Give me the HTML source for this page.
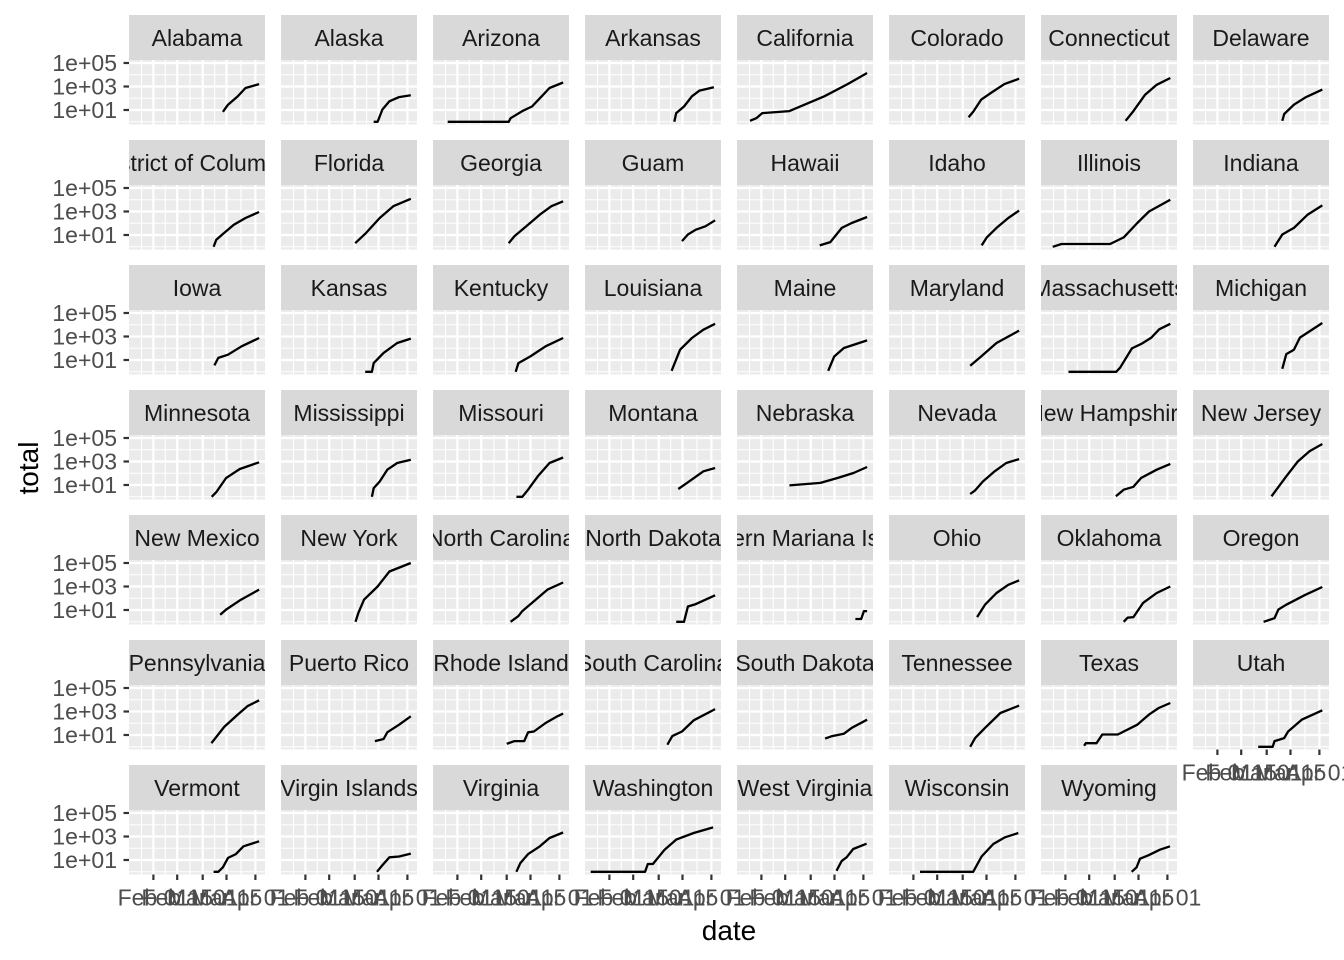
<!DOCTYPE html>
<html><head><meta charset="utf-8"><title>total by date per state</title>
<style>
html,body{margin:0;padding:0;background:#fff;}
svg{display:block;font-family:"Liberation Sans",Arial,sans-serif;}
</style></head>
<body>
<svg id="chart" width="1344" height="960" viewBox="0 0 1344 960" xmlns="http://www.w3.org/2000/svg">
<rect width="1344" height="960" fill="#fff"/>
<defs id="defs"></defs>
<g id="panels"></g>
<text x="729" y="940" font-size="28" text-anchor="middle" fill="#000">date</text>
<text transform="translate(38,468) rotate(-90)" font-size="28" text-anchor="middle" fill="#000">total</text>
</svg>
<script>
const states = ["Alabama","Alaska","Arizona","Arkansas","California","Colorado","Connecticut","Delaware",
"District of Columbia","Florida","Georgia","Guam","Hawaii","Idaho","Illinois","Indiana",
"Iowa","Kansas","Kentucky","Louisiana","Maine","Maryland","Massachusetts","Michigan",
"Minnesota","Mississippi","Missouri","Montana","Nebraska","Nevada","New Hampshire","New Jersey",
"New Mexico","New York","North Carolina","North Dakota","Northern Mariana Islands","Ohio","Oklahoma","Oregon",
"Pennsylvania","Puerto Rico","Rhode Island","South Carolina","South Dakota","Tennessee","Texas","Utah",
"Vermont","Virgin Islands","Virginia","Washington","West Virginia","Wisconsin","Wyoming"];
// days since Feb 01 2020
const seriesDays = [
[40.9,43.9,49.6,54.2,62.2],[40.2,42.5,45.3,49.4,55.1,62],[-5.7,30.2,31.3,38.2,43.9,49.6,54.2,62.2],[38.2,39.3,43.9,48.5,53,61.5],
[-6.7,-3,0.5,16.5,24.5,37,50.7,62.2],[32.5,35.2,39.8,45.5,53.5,62.2],[35.4,40,46.9,53.7,61.7],[38.2,39.3,45,51.9,61.7],
[35.4,37,40.5,47.3,54.2,62.2],[29.3,35.7,43.7,51.7,62],[30.2,33.6,40.5,48.5,55.3,62.2],[42.7,46.2,50.8,56.5,62.2],
[34.3,40.5,47.3,53.1,62.2],[40.2,43.2,48.9,55.8,62.2],[-7.5,-2.3,26.3,34.3,42.3,49.2,61.7],[33.6,38.2,45,53.1,61.7],
[35.9,38.2,43.9,51.9,62.2],[35.2,39.1,40.2,46,54,62],[34.3,35.9,42.8,51.9,62.2],[36.6,41.6,48.5,55.3,62.2],
[39.3,42.8,48.5,62.2],[33.4,39.8,48.9,62.2],[1.8,29.9,32.2,39.1,44.9,50.6,55.2,61.7],[38.2,40.5,45,48.5,61.7],
[34.3,37,42.8,50.8,62.2],[39.1,40.2,43.7,48.2,54,62],[34.7,38.2,41.6,47.3,54.2,62.2],[40.5,46.2,55.3,62.2],
[16.5,34.7,45,54.2,62.2],[33.4,36.3,40.9,47.8,54.6,62.2],[29.7,34.3,40,44.6,53.7,61.7],[31.8,34.7,40.5,47.3,54.2,61.7],
[39.3,42.8,50.8,62.2],[29.5,31.1,34.5,42.5,49.4,62],[31.3,35.9,38.2,45,53,62.2],[39.3,43.9,46.2,50.8,62.2],
[55.3,58.7,60.3,62.2],[37.5,42.1,48.9,55.8,62.2],[34.3,36.6,40,45.7,53.7,61.7],[27.2,33.6,35.9,40.5,51.9,61.7],
[34.1,41.6,49.6,55.3,62.2],[40.9,46,48.2,55.1,62],[29,33.6,39.3,41.6,45,51.9,58.8,62.2],[34.1,37,42.7,49.6,62.2],
[37.5,41.6,48.5,53.1,62.2],[33.4,36.3,42.1,51.2,62.2],[11,12,18.3,21.7,30.8,42.3,49.2,54.9,61.7],[24,32.5,33.6,39.3,41.6,49.6,61.7],
[35.4,38.2,40.9,43.9,48.5,53,62.2],[42.1,44.8,49.4,55.1,62],[34.7,37,41.6,48.5,54.2,62.2],[-11,21,22.6,25.6,32.5,39.3,49.6,61],
[44.2,47.2,50.1,54,61.9],[3.9,35.2,40.1,47,53.9,61.7],[39,41.9,43.9,48.8,55.6,61.5]];
const seriesTotals = [
[7,28,145,740,1600],[1,1,11,55,125,180],[1,1,2,8,20,146,740,2200],[1,5.5,20,146,450,850],
[1.2,2,5.5,8,25,146,1600,14000],[2.4,7,76,280,1600,4600],[1.2,8,200,1400,5300],[1.2,4.6,28,120,540],
[1,4,11,76,280,900],[2,15,280,2800,12000],[2,8,55,540,2800,7400],[3,11,28,55,180],
[1.3,2.5,40,105,340],[1.3,6.3,40,280,1200],[1,1.7,1.7,6.3,105,1000,10000],[1,11,40,540,3300],
[3.5,15,28,146,740],[1,1,5.5,40,280,660],[1,5.5,20,146,740],[1.2,76,740,3800,12000],
[1.2,20,105,470],[3.3,20,280,3200],[1,1,2.2,98,245,800,4100,12000],[1.8,32,76,800,14000],
[1,2.5,40,230,850],[1,5.5,20,200,740,1400],[1,1,4,55,740,2200],[4.6,17,146,280],
[9.3,15,40,105,340],[1.7,3.5,20,146,740,1600],[1.1,4,7,40,200,620],[1.1,4,55,1000,7400,31000],
[4,11,66,540],[1,5.5,76,1000,19000,100000],[1,3,8,55,540,2200],[1,1,20,32,180],
[1.7,1.7,8,8],[2.5,28,280,1400,3300],[1,2.2,2.5,40,280,1000],[1,2,11,28,200,900],
[2,48,540,2800,8900],[3,4.6,17,76,390],[1.8,3,3,17,20,105,390,660],[1.5,8,20,180,1600],
[4.9,8,13,40,200],[1,5.5,40,740,3200],[1.2,2,2,11,11,76,540,2000,5300],[1,1,3,5.5,20,200,1260],
[1,1,2.4,15,32,146,390],[1,3,17,20,35],[1,5.5,32,146,740,2200],[1,1,4.6,4.6,76,540,2000,6000],
[1.2,8,17,87,245],[1,1,20,230,850,2000],[1,2.4,13,25,76,146]];
const yTickValues = [100000,1000,10];
const yTickLabels = ["1e+05","1e+03","1e+01"];
const yMinorValues = [10000,100,1];
const xTickDays = [0,14,29,43,60];
const xTickLabels = ["Feb 01","Feb 15","Mar 01","Mar 15","Apr 01"];
const xMinorDays = [-7,7,21.5,36,51.5];

const NS = "http://www.w3.org/2000/svg";
const NCOL = 8, PW = 136, PH = 64.5, STRIP = 45;
const panelsG = document.getElementById('panels');
const defs = document.getElementById('defs');
function mk(tag, attrs, parent){ const e=document.createElementNS(NS,tag); for(const k in attrs) e.setAttribute(k,attrs[k]); parent.appendChild(e); return e; }
function xScale(L,d){ return L + 24.4 + d*1.7; }
function yScale(T,v){ return T + 50 - (Math.log10(v)-1)*11.75; }

states.forEach((st,i)=>{
  const c = i % NCOL, r = Math.floor(i / NCOL);
  const L = 129 + 152*c, T = 60 + 125*r;
  const g = mk('g',{},panelsG);
  
  
  // strip
  const cp = mk('clipPath',{id:'cp'+i},defs);
  mk('rect',{x:L,y:T-STRIP,width:PW,height:STRIP},cp);
  const sr = mk('rect',{x:L,y:T-STRIP,width:PW,height:STRIP,fill:'#D9D9D9'},g);
  
  
  const stx = mk('text',{x:L+PW/2,y:T-STRIP+31,'font-size':23,'text-anchor':'middle',fill:'#1A1A1A','clip-path':'url(#cp'+i+')'},g);
  stx.textContent = st;
  
  
  // background
  const bg = mk('rect',{x:L,y:T,width:PW,height:PH,fill:'#EBEBEB'},g);
  
  
  yMinorValues.forEach(v=>{ const y=yScale(T,v); if(y<T+PH) mk('line',{x1:L,x2:L+PW,y1:y,y2:y,stroke:'#fff','stroke-width':1.1},g); });
  xMinorDays.forEach(d=>{ const x=xScale(L,d); mk('line',{x1:x,x2:x,y1:T,y2:T+PH,stroke:'#fff','stroke-width':1.1},g); });
  yTickValues.forEach(v=>{ const y=yScale(T,v); mk('line',{x1:L,x2:L+PW,y1:y,y2:y,stroke:'#fff','stroke-width':2.2},g); });
  xTickDays.forEach(d=>{ const x=xScale(L,d); mk('line',{x1:x,x2:x,y1:T,y2:T+PH,stroke:'#fff','stroke-width':2.2},g); });
  // series
  const days = seriesDays[i], vals = seriesTotals[i];
  const pts = days.map((d,k)=> xScale(L,d).toFixed(1)+','+yScale(T,vals[k]).toFixed(1)).join(' ');
  const pl = mk('polyline',{points:pts,fill:'none',stroke:'#000','stroke-width':2.3,'stroke-linejoin':'round'},g);
  
  
  // y axis on first column
  if(c===0){
    yTickValues.forEach((v,k)=>{
      const y=yScale(T,v);
      mk('line',{x1:L-5.5,x2:L,y1:y,y2:y,stroke:'#333','stroke-width':2.2},g);
      const t = mk('text',{x:L-12,y:y+8,'font-size':23,'text-anchor':'end',fill:'#4D4D4D'},g);
      t.textContent = yTickLabels[k];
      
      
    });
  }
  // x axis on bottom panel in each column
  const isBottom = (i + NCOL >= states.length);
  if(isBottom){
    xTickDays.forEach((d,k)=>{
      const x=xScale(L,d);
      mk('line',{x1:x,x2:x,y1:T+PH,y2:T+PH+5.5,stroke:'#333','stroke-width':2.2},g);
      const t = mk('text',{x:x,y:T+PH+31,'font-size':23,'text-anchor':'middle',fill:'#4D4D4D'},g);
      t.textContent = xTickLabels[k];
      
      
    });
  }
});
</script>
</body></html>
